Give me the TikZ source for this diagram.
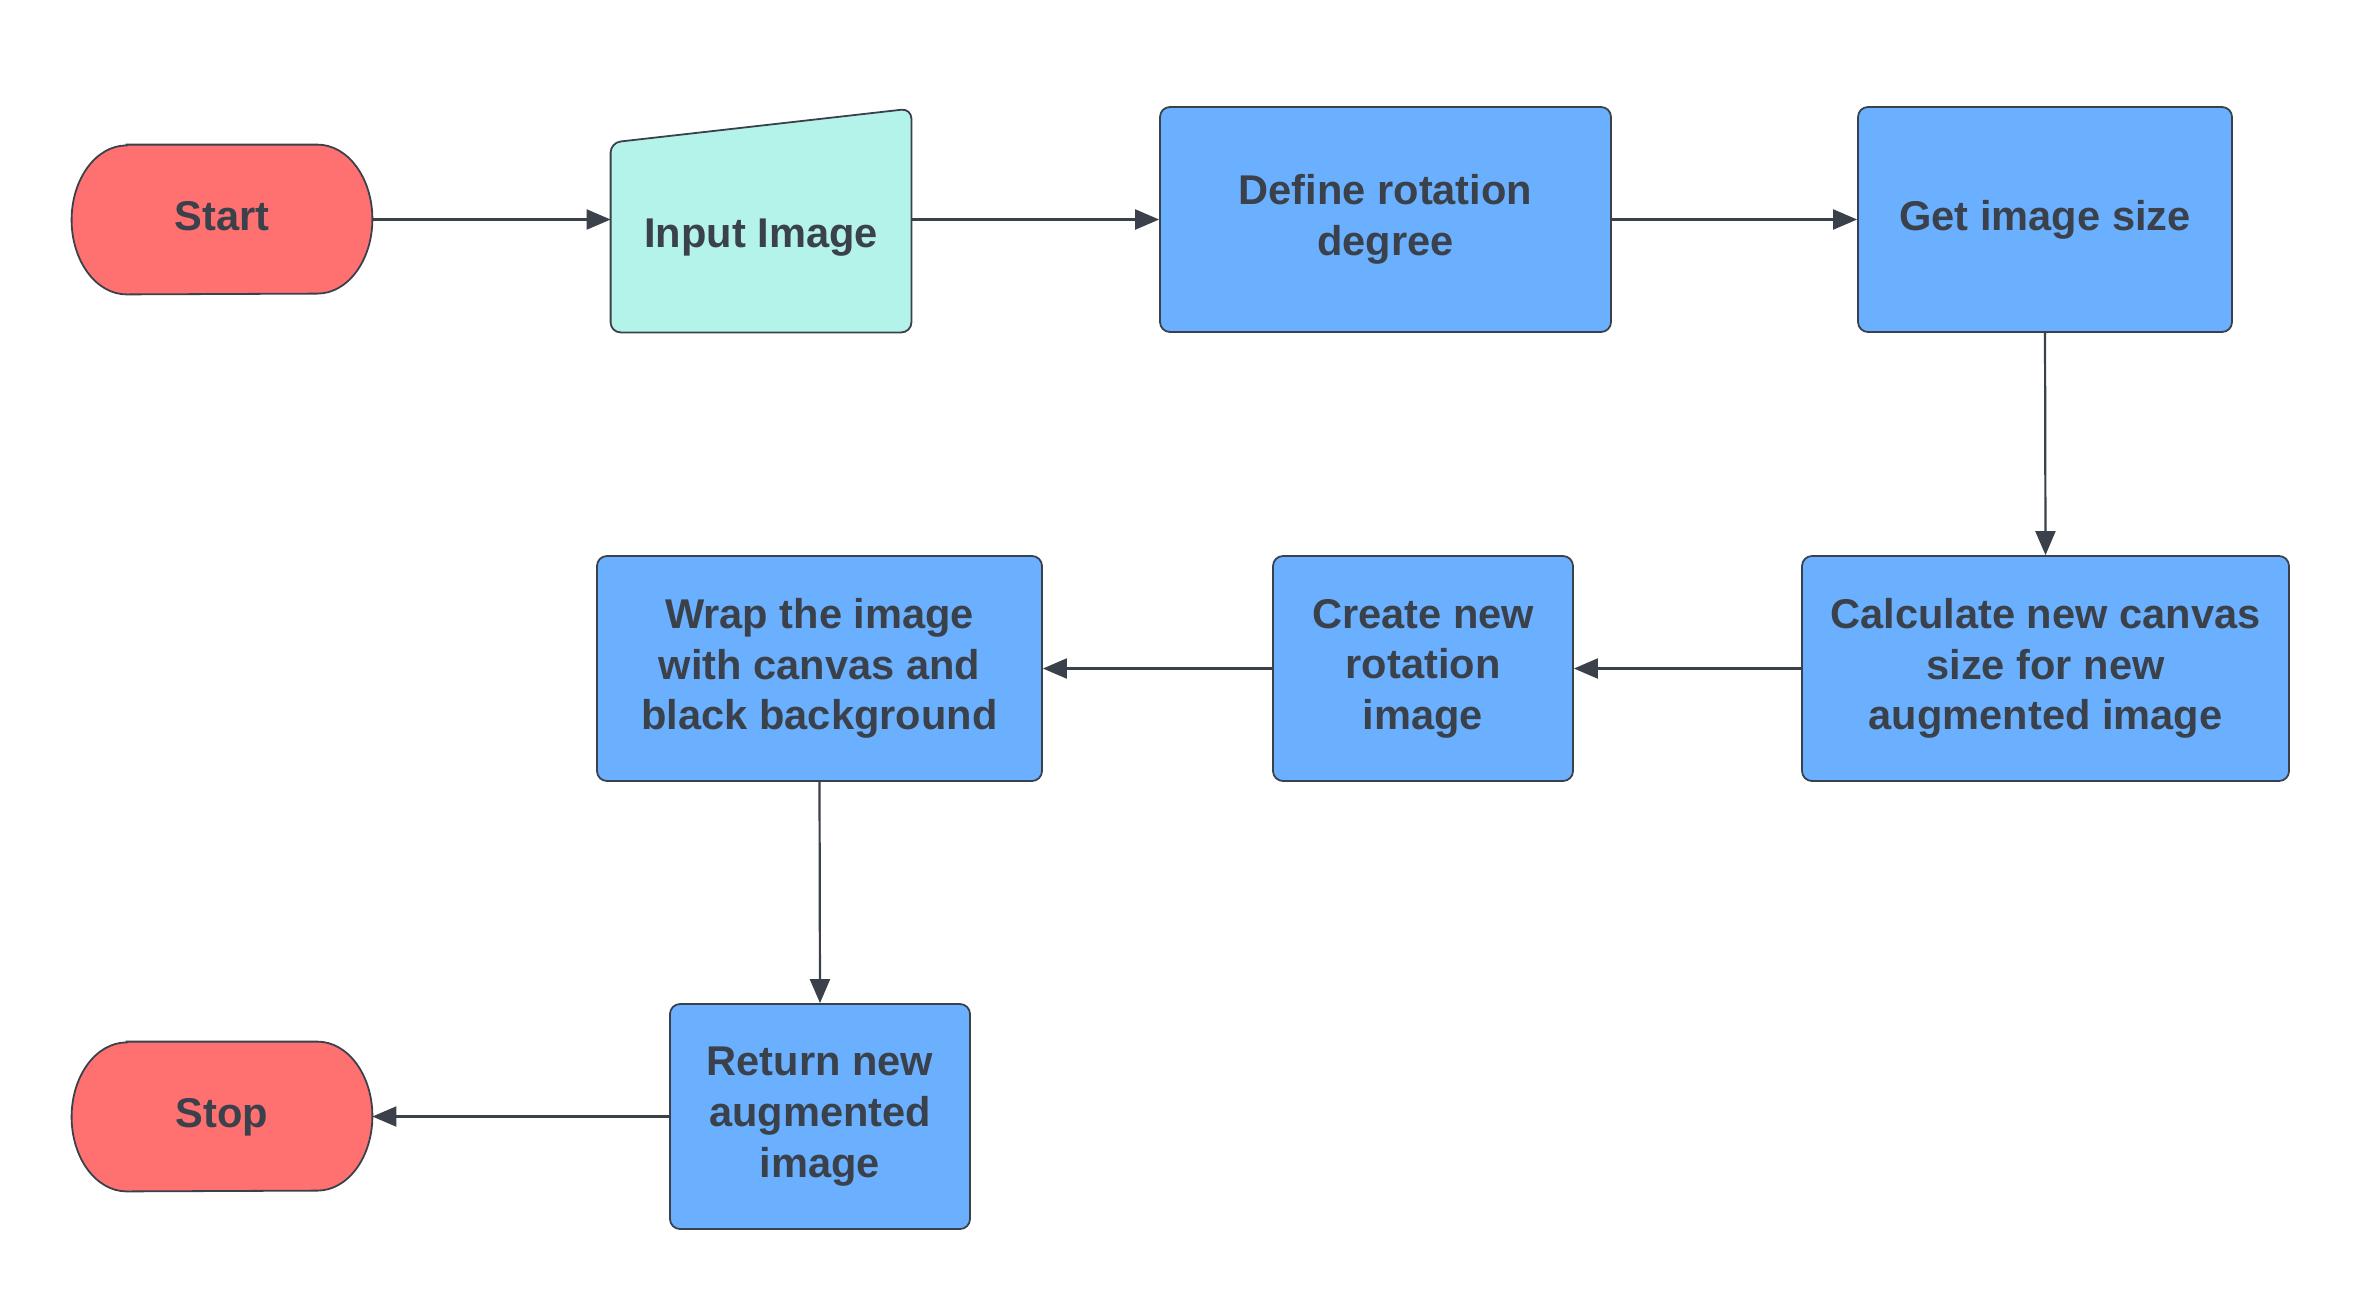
\documentclass[tikz,border=0pt]{standalone}
\usepackage{fontspec}
\setmainfont{Liberation Sans}
\usetikzlibrary{arrows.meta}
\pgfdeclarelayer{background}
\pgfsetlayers{background,main}
\definecolor{termred}{HTML}{FF7171}
\definecolor{inteal}{HTML}{B4F3EA}
\definecolor{procblue}{HTML}{6BB0FF}
\definecolor{ink}{HTML}{3A414A}
\tikzset{
  lbl/.style={font=\fontsize{20.8pt}{25.3pt}\selectfont\bfseries, text=ink, align=center, inner sep=0pt},
  proc/.style={lbl, draw=ink, line width=0.9pt, fill=procblue, rounded corners=5pt, minimum height=112.5pt},
  term/.style={lbl, minimum width=150pt, minimum height=74.5pt, text height=15.2pt, text depth=4.4pt},
  flow/.style={draw=ink, line width=1.1pt, -{Triangle[length=12pt,width=10pt]}},
  termshape/.style={draw=ink, line width=0.9pt, fill=termred}
}
\begin{document}
\begin{tikzpicture}[x=0.5pt,y=-0.5pt]
\useasboundingbox (0,0) rectangle (2365,1297);
% nodes
\node[term] (start) at (222,219.5) {Start};
\node[lbl, minimum width=150pt, minimum height=94.5pt] (input) at (761,237.5) {Input Image};
\node[proc, minimum width=225.5pt] (define) at (1385.5,219.5) {Define rotation\\degree};
\node[proc, minimum width=187pt] (getsize) at (2045,219.5) {Get image size};
\node[proc, minimum width=243.5pt] (calc) at (2045.5,668.5) {Calculate new canvas\\size for new\\augmented image};
\node[proc, minimum width=150pt] (create) at (1423,668.5) {Create new\\rotation\\image};
\node[proc, minimum width=222.5pt] (wrap) at (819.5,668.5) {Wrap the image\\with canvas and\\black background};
\node[proc, minimum width=150pt] (ret) at (820,1116.5) {Return new\\augmented\\image};
\node[term] (stop) at (222,1116.5) {Stop};
% shapes
\begin{pgfonlayer}{background}
\draw[termshape] ([xshift=27.5pt]start.north west) -- ([xshift=-27.5pt]start.north east)
  arc[start angle=90,end angle=-90,x radius=27.5pt,y radius=37.25pt]
  -- ([xshift=27.5pt]start.south west)
  arc[start angle=270,end angle=90,x radius=27.5pt,y radius=37.25pt] -- cycle;
\draw[termshape] ([xshift=27.5pt]stop.north west) -- ([xshift=-27.5pt]stop.north east)
  arc[start angle=90,end angle=-90,x radius=27.5pt,y radius=37.25pt]
  -- ([xshift=27.5pt]stop.south west)
  arc[start angle=270,end angle=90,x radius=27.5pt,y radius=37.25pt] -- cycle;
\draw[draw=ink, line width=0.9pt, fill=inteal, rounded corners=5pt]
  (input.south west) -- (input.south east) -- ([yshift=17pt]input.north east)
  -- (input.north west) -- cycle;
\end{pgfonlayer}
% connectors
\draw[flow] (start.east) -- (start.east -| input.west);
\draw[flow] (input.east |- start.east) -- (define.west);
\draw[flow] (define.east) -- (getsize.west);
\draw[flow] (getsize.south) -- (calc.north);
\draw[flow] (calc.west) -- (create.east);
\draw[flow] (create.west) -- (wrap.east);
\draw[flow] (wrap.south) -- (ret.north);
\draw[flow] (ret.west) -- (stop.east);
\end{tikzpicture}
\end{document}
